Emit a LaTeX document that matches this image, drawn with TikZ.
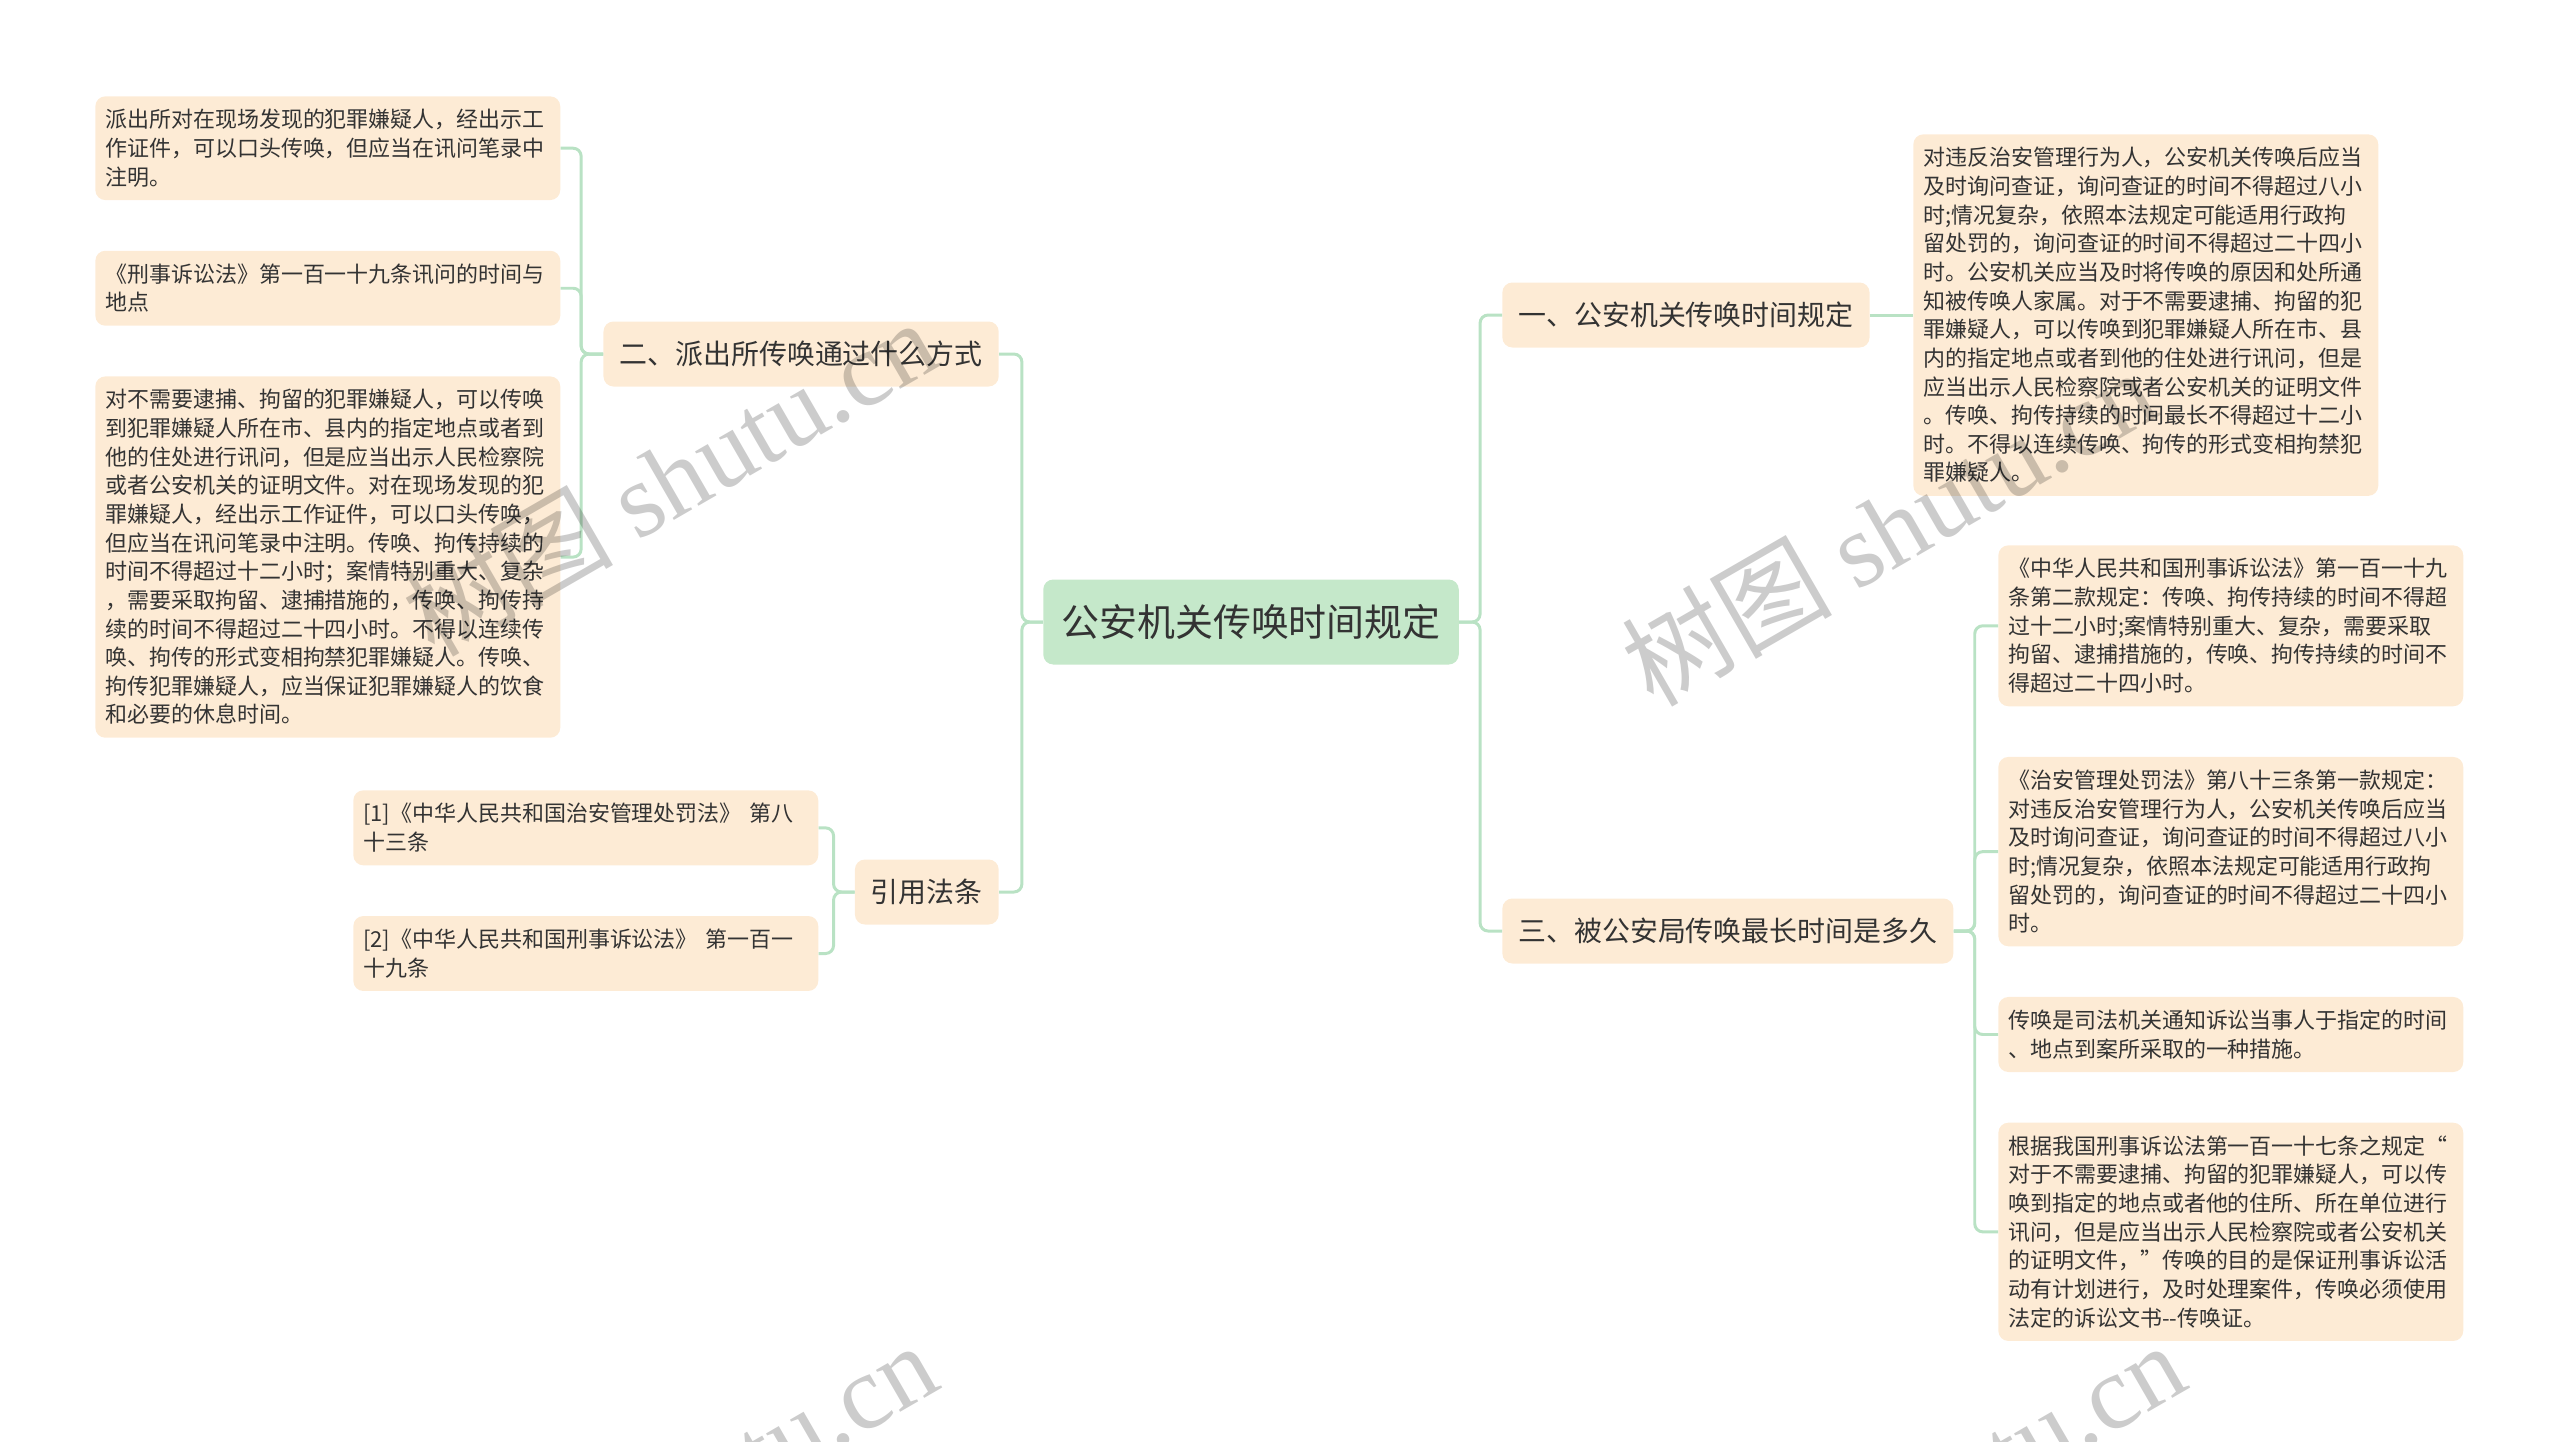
\documentclass[tikz,border=0pt]{standalone}
\usepackage{fontspec}
\setmainfont{Noto Sans CJK SC}
\newfontfamily\wmlatin{Liberation Serif}
\usetikzlibrary{positioning}
\definecolor{leafFill}{HTML}{FDEBD5}
\definecolor{rootFill}{HTML}{C5E8CA}
\definecolor{linkGreen}{HTML}{B9E2C4}
\definecolor{ink}{HTML}{333333}

\begin{document}
\begin{tikzpicture}[
  x=0.02cm, y=-0.02cm,
  every node/.style={text=ink},
  root/.style={fill=rootFill, rounded corners=0.2cm, inner xsep=0.36cm, minimum height=1.7cm, font=\fontsize{21.6pt}{26pt}\selectfont},
  branch/.style={fill=leafFill, rounded corners=0.2cm, inner xsep=0.32cm, minimum height=1.3cm, font=\fontsize{15.9pt}{19pt}\selectfont},
  leaf/.style={fill=leafFill, rounded corners=0.2cm, align=left, text width=8.9cm, inner xsep=0.2cm, inner ysep=0.26cm, font=\fontsize{12.5pt}{16.3pt}\selectfont},
  link/.style={draw=linkGreen, line width=1.7pt, rounded corners=0.16cm},
  wm/.style={text=black, opacity=0.2, rotate=30, font=\fontsize{60pt}{60pt}\selectfont}
]
\useasboundingbox (0,0) rectangle (2560,1441);

\node[root] (root) at (1251,622) {公安机关传唤时间规定};
\node[branch, anchor=east] (pcs) at (999,354) {二、派出所传唤通过什么方式};
\node[branch, anchor=east] (cite) at (999,892) {引用法条};
\node[branch, anchor=west] (rule) at (1502,315) {一、公安机关传唤时间规定};
\node[branch, anchor=west] (maxT) at (1502,931) {三、被公安局传唤最长时间是多久};

\node[leaf, anchor=north west] (onSite) at (95,96) {派出所对在现场发现的犯罪嫌疑人，经出示工\\作证件，可以口头传唤，但应当在讯问笔录中\\注明。};
\node[leaf, below=1cm of onSite.south west, anchor=north west] (art119) {《刑事诉讼法》第一百一十九条讯问的时间与\\地点};
\node[leaf, below=1cm of art119.south west, anchor=north west] (summon) {对不需要逮捕、拘留的犯罪嫌疑人，可以传唤\\到犯罪嫌疑人所在市、县内的指定地点或者到\\他的住处进行讯问，但是应当出示人民检察院\\或者公安机关的证明文件。对在现场发现的犯\\罪嫌疑人，经出示工作证件，可以口头传唤，\\但应当在讯问笔录中注明。传唤、拘传持续的\\时间不得超过十二小时；案情特别重大、复杂\\，需要采取拘留、逮捕措施的，传唤、拘传持\\续的时间不得超过二十四小时。不得以连续传\\唤、拘传的形式变相拘禁犯罪嫌疑人。传唤、\\拘传犯罪嫌疑人，应当保证犯罪嫌疑人的饮食\\和必要的休息时间。};

\node[leaf, anchor=north west] (ref1) at (353,790) {[1]《中华人民共和国治安管理处罚法》 第八\\十三条};
\node[leaf, below=1cm of ref1.south west, anchor=north west] (ref2) {[2]《中华人民共和国刑事诉讼法》 第一百一\\十九条};

\node[leaf, anchor=north west] (ruleText) at (1913,134) {对违反治安管理行为人，公安机关传唤后应当\\及时询问查证，询问查证的时间不得超过八小\\时;情况复杂，依照本法规定可能适用行政拘\\留处罚的，询问查证的时间不得超过二十四小\\时。公安机关应当及时将传唤的原因和处所通\\知被传唤人家属。对于不需要逮捕、拘留的犯\\罪嫌疑人，可以传唤到犯罪嫌疑人所在市、县\\内的指定地点或者到他的住处进行讯问，但是\\应当出示人民检察院或者公安机关的证明文件\\。传唤、拘传持续的时间最长不得超过十二小\\时。不得以连续传唤、拘传的形式变相拘禁犯\\罪嫌疑人。};

\node[leaf, anchor=north west] (law119) at (1998,545) {《中华人民共和国刑事诉讼法》第一百一十九\\条第二款规定：传唤、拘传持续的时间不得超\\过十二小时;案情特别重大、复杂，需要采取\\拘留、逮捕措施的，传唤、拘传持续的时间不\\得超过二十四小时。};
\node[leaf, below=1cm of law119.south west, anchor=north west] (law83) {《治安管理处罚法》第八十三条第一款规定：\\对违反治安管理行为人，公安机关传唤后应当\\及时询问查证，询问查证的时间不得超过八小\\时;情况复杂，依照本法规定可能适用行政拘\\留处罚的，询问查证的时间不得超过二十四小\\时。};
\node[leaf, below=1cm of law83.south west, anchor=north west] (define) {传唤是司法机关通知诉讼当事人于指定的时间\\、地点到案所采取的一种措施。};
\node[leaf, below=1cm of define.south west, anchor=north west] (purpose) {根据我国刑事诉讼法第一百一十七条之规定“\\对于不需要逮捕、拘留的犯罪嫌疑人，可以传\\唤到指定的地点或者他的住所、所在单位进行\\讯问，但是应当出示人民检察院或者公安机关\\的证明文件，”传唤的目的是保证刑事诉讼活\\动有计划进行，及时处理案件，传唤必须使用\\法定的诉讼文书-{}-传唤证。};

\foreach \b in {pcs,cite} \draw[link] (root.west) -- ++(-21,0) |- (\b.east);
\foreach \b in {rule,maxT} \draw[link] (root.east) -- ++(21,0) |- (\b.west);
\foreach \l in {onSite,art119,summon} \draw[link] (pcs.west) -- ++(-22,0) |- (\l.east);
\foreach \l in {ref1,ref2} \draw[link] (cite.west) -- ++(-21,0) |- (\l.east);
\draw[link] (rule.east) -- (rule.east -| ruleText.west);
\foreach \l in {law119,law83,define,purpose} \draw[link] (maxT.east) -- ++(21,0) |- (\l.west);

\node[wm] (wmA) at (669,477) {树图 {\wmlatin shutu.cn}};
\node[wm] (wmB) at (1888,527) {树图 {\wmlatin shutu.cn}};
\node[wm] (wmC) at (669,1500) {树图 {\wmlatin shutu.cn}};
\node[wm] (wmD) at (1917,1500) {树图 {\wmlatin shutu.cn}};

\end{tikzpicture}
\end{document}
